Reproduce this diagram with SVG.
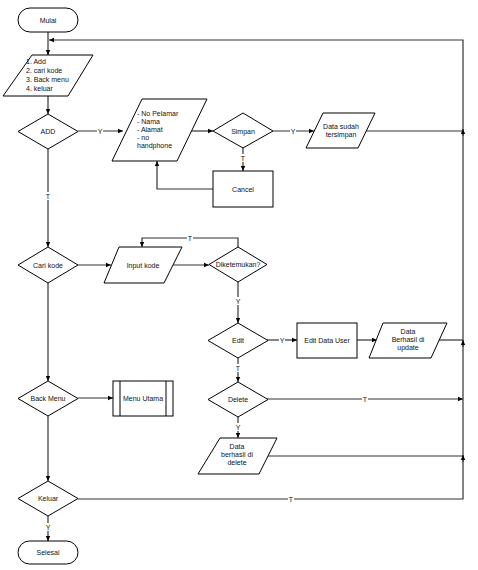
<svg xmlns="http://www.w3.org/2000/svg" width="478" height="570" viewBox="0 0 478 570">
<style>
.s{fill:#fff;stroke:#000;stroke-width:1}
.t{font-family:"Liberation Sans",Arial,sans-serif;font-size:7px;fill:#111}
.m{text-anchor:middle}
.c{fill:none;stroke:#333;stroke-width:1.2}
.lb{fill:#fff}
</style>
<defs>
<marker id="a" markerUnits="userSpaceOnUse" markerWidth="6" markerHeight="6" refX="5" refY="3" orient="auto">
<path d="M0,0.8 L5,3 L0,5.2 Z" fill="#000"/>
</marker>
</defs>
<rect width="478" height="570" fill="#fff"/>
<g id="connectors">
<path class="c" d="M48,32 V55" marker-end="url(#a)"/>
<path class="c" d="M78,499 H463 V40 H49" marker-end="url(#a)"/>
<path class="c" d="M48,96 V114" marker-end="url(#a)"/>
<path class="c" d="M78,131 H123" marker-end="url(#a)"/>
<path class="c" d="M190,131 H213" marker-end="url(#a)"/>
<path class="c" d="M273,131 H314" marker-end="url(#a)"/>
<path class="c" d="M243,148 V171" marker-end="url(#a)"/>
<path class="c" d="M213,189 H157 V161" marker-end="url(#a)"/>
<path class="c" d="M366,131 H463"/>
<path class="c" d="M463,136 V129" marker-end="url(#a)"/>
<path class="c" d="M48,149 V247" marker-end="url(#a)"/>
<path class="c" d="M78,265 H111" marker-end="url(#a)"/>
<path class="c" d="M173,265 H209" marker-end="url(#a)"/>
<path class="c" d="M238,247 V238 H142 V247" marker-end="url(#a)"/>
<path class="c" d="M238,282 V323" marker-end="url(#a)"/>
<path class="c" d="M267,340 H297" marker-end="url(#a)"/>
<path class="c" d="M357,340 H377" marker-end="url(#a)"/>
<path class="c" d="M439,340 H463"/>
<path class="c" d="M463,347 V340" marker-end="url(#a)"/>
<path class="c" d="M238,358 V382" marker-end="url(#a)"/>
<path class="c" d="M267,399 H463" marker-end="url(#a)"/>
<path class="c" d="M238,417 V438" marker-end="url(#a)"/>
<path class="c" d="M268,456 H463"/>
<path class="c" d="M463,462 V455" marker-end="url(#a)"/>
<path class="c" d="M48,283 V381" marker-end="url(#a)"/>
<path class="c" d="M78,398 H113" marker-end="url(#a)"/>
<path class="c" d="M48,416 V481" marker-end="url(#a)"/>
<path class="c" d="M48,516 V541" marker-end="url(#a)"/>
<g id="labels">
<rect class="lb" x="97" y="127" width="6" height="8"/><text class="t m" x="100" y="133.5">Y</text>
<rect class="lb" x="290" y="127" width="6" height="8"/><text class="t m" x="293" y="133.5">Y</text>
<rect class="lb" x="240" y="154" width="6" height="8"/><text class="t m" x="243" y="160.5">T</text>
<rect class="lb" x="45" y="192" width="6" height="8"/><text class="t m" x="48" y="198.5">T</text>
<rect class="lb" x="187" y="234" width="6" height="8"/><text class="t m" x="190" y="240.5">T</text>
<rect class="lb" x="235" y="297" width="6" height="8"/><text class="t m" x="238" y="303.5">Y</text>
<rect class="lb" x="279" y="336" width="6" height="8"/><text class="t m" x="282" y="342.5">Y</text>
<rect class="lb" x="235" y="364" width="6" height="8"/><text class="t m" x="238" y="370.5">T</text>
<rect class="lb" x="362" y="395" width="6" height="8"/><text class="t m" x="365" y="401.5">T</text>
<rect class="lb" x="235" y="423" width="6" height="8"/><text class="t m" x="238" y="429.5">Y</text>
<rect class="lb" x="288" y="495" width="6" height="8"/><text class="t m" x="291" y="501.5">T</text>
<rect class="lb" x="45" y="523" width="6" height="8"/><text class="t m" x="48" y="529.5">Y</text>
</g>
</g>
<g id="mulai"><rect class="s" x="18" y="8" width="60" height="24" rx="12"/><text class="t m" x="48" y="22.5">Mulai</text></g>
<g id="menu"><path class="s" d="M32,55 H93 L68,96 H3 Z"/>
<text class="t" x="26" y="64">1. Add</text><text class="t" x="26" y="73">2. cari kode</text><text class="t" x="26" y="82">3. Back menu</text><text class="t" x="26" y="91">4. keluar</text></g>
<g id="add"><path class="s" d="M48,114 L78,131.5 L48,149 L18,131.5 Z"/><text class="t m" x="48" y="134">ADD</text></g>
<g id="input-data"><path class="s" d="M142,99 H207 L177,161 H112 Z"/>
<text class="t" x="137" y="116">- No Pelamar</text><text class="t" x="137" y="124">- Nama</text><text class="t" x="137" y="132">- Alamat</text><text class="t" x="137" y="140">- no</text><text class="t" x="137" y="148">handphone</text></g>
<g id="simpan"><path class="s" d="M243,113 L273,131 L243,148 L213,131 Z"/><text class="t m" x="243" y="133.5">Simpan</text></g>
<g id="data-sudah"><path class="s" d="M323,113 H375 L358,148 H306 Z"/><text class="t m" x="341" y="129">Data sudah</text><text class="t m" x="341" y="137">tersimpan</text></g>
<g id="cancel"><rect class="s" x="213" y="171" width="60" height="36"/><text class="t m" x="243" y="191.5">Cancel</text></g>
<g id="cari-kode"><path class="s" d="M48,247 L78,265 L48,283 L18,265 Z"/><text class="t m" x="48" y="267.5">Cari  kode</text></g>
<g id="input-kode"><path class="s" d="M119,247 H182 L164,283 H104 Z"/><text class="t m" x="143" y="267.5">Input kode</text></g>
<g id="diketemukan"><path class="s" d="M238,247 L267,264.5 L238,282 L209,264.5 Z"/><text class="t m" x="238" y="267">Diketemukan?</text></g>
<g id="edit"><path class="s" d="M238,323 L268,340.5 L238,358 L208,340.5 Z"/><text class="t m" x="238" y="343">Edit</text></g>
<g id="edit-data-user"><rect class="s" x="297" y="323" width="60" height="35"/><text class="t m" x="327" y="342.5">Edit Data User</text></g>
<g id="update"><path class="s" d="M383,323 H447 L431,358 H369 Z"/><text class="t m" x="408" y="334">Data</text><text class="t m" x="408" y="342">Berhasil di</text><text class="t m" x="408" y="350">update</text></g>
<g id="delete"><path class="s" d="M238,382 L268,399.5 L238,417 L208,399.5 Z"/><text class="t m" x="238" y="402">Delete</text></g>
<g id="data-delete"><path class="s" d="M220,438 H277 L259,474 H198 Z"/><text class="t m" x="237" y="449">Data</text><text class="t m" x="237" y="457">berhasil di</text><text class="t m" x="237" y="465">delete</text></g>
<g id="back-menu"><path class="s" d="M48,381 L78,398.5 L48,416 L18,398.5 Z"/><text class="t m" x="48" y="401">Back Menu</text></g>
<g id="menu-utama"><rect class="s" x="113" y="381" width="60" height="35"/><path class="s" d="M120,381 V416 M166,381 V416"/><text class="t m" x="143" y="400.5">Menu Utama</text></g>
<g id="keluar"><path class="s" d="M48,481 L78,498.5 L48,516 L18,498.5 Z"/><text class="t m" x="48" y="501">Keluar</text></g>
<g id="selesai"><rect class="s" x="18" y="541" width="60" height="23" rx="11.5"/><text class="t m" x="48" y="555">Selesai</text></g>
</svg>
